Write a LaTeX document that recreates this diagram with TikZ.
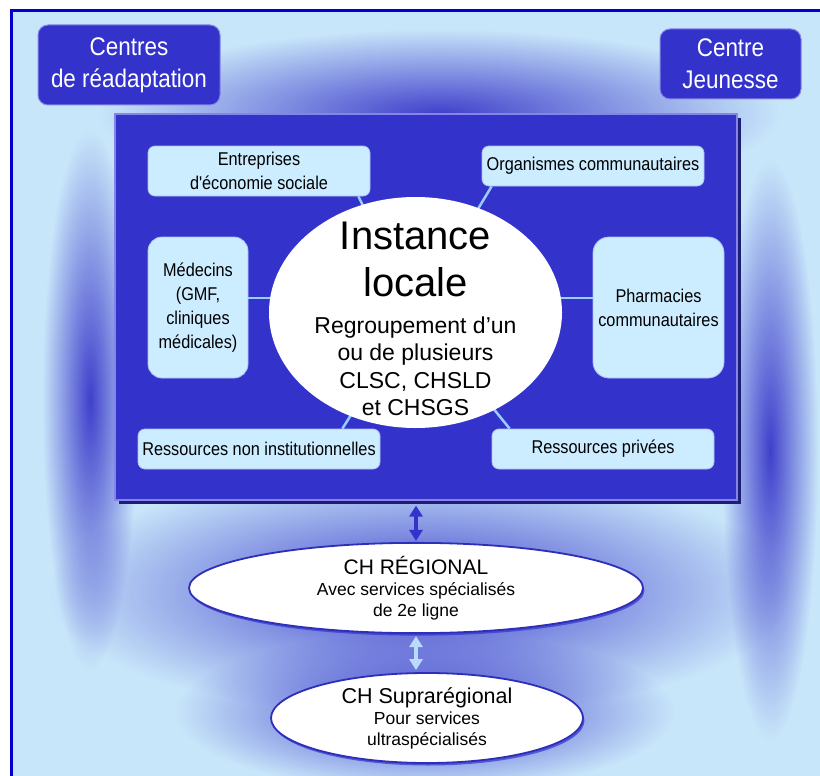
\documentclass[tikz,border=0pt]{standalone}
\usepackage{fontspec}
\setmainfont{Liberation Sans}
\newfontfamily\narrowfont[FakeStretch=0.88]{Liberation Sans}
\usepackage{tikz}
\usetikzlibrary{math}
\usetikzlibrary{shapes.geometric,shadows,fadings,arrows.meta,positioning}
\usepackage{xcolor}

\definecolor{bgblue}{HTML}{C8E6FA}
\definecolor{deepblue}{HTML}{3333CC}
\definecolor{paleblue}{HTML}{CCECFF}
\definecolor{glowblue}{HTML}{4040CC}
\definecolor{frameblue}{HTML}{0000CC}
\definecolor{shadowblue}{HTML}{1E1E78}
\definecolor{edgeblue}{HTML}{8585E6}
\definecolor{linkblue}{HTML}{99CCFF}
\definecolor{arrowpale}{HTML}{B8DCFA}

\tikzfading[name=glowfade, inner color=transparent!0, outer color=transparent!100]

\begin{document}
\begin{tikzpicture}[x=1pt,y=-1pt]

\tikzmath{
	\picw = 820; \pich = 776;
}

\tikzset{
  glow/.style={fill=glowblue, path fading=glowfade},
  corner box/.style={draw=edgeblue, line width=1pt, fill=deepblue,
    rounded corners=10pt, text=white, align=center, inner sep=0pt,
    font=\narrowfont\fontsize{25.5}{32}\selectfont},
  pale box/.style={draw=edgeblue!45!paleblue, line width=0.8pt, fill=paleblue,
    rounded corners=#1, align=center, inner sep=0pt,
    font=\narrowfont\fontsize{18.5}{24}\selectfont},
  pale box/.default=7pt,
  link/.style={linkblue, line width=2.5pt},
  ch oval/.style={ellipse, draw=deepblue!90!black, line width=1.8pt, fill=white,
    inner sep=0pt, align=center, font=\fontsize{17.5}{21}\selectfont,
    drop shadow={shadow xshift=1.5pt, shadow yshift=-2.5pt, fill=deepblue, opacity=0.7}},
  updown/.style={line width=3.5pt, {Triangle[width=13pt,length=11pt]}-{Triangle[width=13pt,length=11pt]}},
}

% background
\useasboundingbox (0,0) rectangle (\picw,\pich);
\fill[bgblue] (11,11) rectangle (\picw,\pich);
\fill[glow] (440,114) ellipse (340 and 85);
\fill[glow] (90,400) ellipse (48 and 270);
\fill[glow] (770,450) ellipse (48 and 290);
\fill[glow] (420,592) ellipse (370 and 125);
\fill[glow] (425,712) ellipse (250 and 80);
\draw[frameblue, line width=3pt] (11,11) rectangle (\picw+20,\pich+20);

% outside partners
\node[corner box, minimum width=182pt, minimum height=80pt] (readapt) at (129,65) {Centres\\de réadaptation};
\node[corner box, minimum width=141pt, minimum height=70pt] (jeunesse) at (730.5,64) {Centre\\Jeunesse};

% local instance
\node[draw=edgeblue, line width=1.2pt, fill=deepblue, inner sep=0pt,
  minimum width=622pt, minimum height=386pt,
  drop shadow={shadow xshift=3.5pt, shadow yshift=-3.5pt, fill=shadowblue, opacity=1}] (local) at (426,307) {};

\node[pale box, minimum width=222pt, minimum height=50pt] (entreprises) at (259,171) {Entreprises\\d'économie sociale};
\node[pale box, minimum width=222pt, minimum height=40pt] (organismes) at (593,166) {Organismes communautaires};
\node[pale box=14pt, minimum width=100pt, minimum height=141pt] (medecins) at (198,307.5) {Médecins\\(GMF,\\cliniques\\médicales)};
\node[pale box=16pt, minimum width=131pt, minimum height=141pt] (pharmacies) at (658.5,307.5) {Pharmacies\\communautaires};
\node[pale box, minimum width=242pt, minimum height=40pt] (nonInst) at (259,449) {Ressources non institutionnelles};
\node[pale box, minimum width=222pt, minimum height=40pt] (privees) at (603,449) {Ressources privées};

\coordinate (hub) at (415.5,312.5);
\draw[link] ([xshift=-12pt]entreprises.south east) -- (hub);
\draw[link] ([xshift=10pt]organismes.south west) -- (hub);
\draw[link] ([yshift=9.5pt]medecins.east) -- ([yshift=9.5pt]medecins.east -| hub);
\draw[link] ([yshift=9.5pt]pharmacies.west) -- ([yshift=9.5pt]pharmacies.west -| hub);
\draw[link] ([xshift=-38pt]nonInst.north east) -- (hub);
\draw[link] ([xshift=18pt]privees.north west) -- (hub);

\node[ellipse, fill=white, inner sep=0pt, minimum width=293pt, minimum height=231pt] (instance) at (hub) {};
\node[align=center, inner sep=0pt, anchor=north, font=\fontsize{40}{47}\selectfont] (instancetitle) at (415.5,222) {Instance\\locale};
\node[align=center, inner sep=0pt, below=19pt of instancetitle, font=\fontsize{23}{27.5}\selectfont] (instancetxt) {Regroupement d'un\\ou de plusieurs\\CLSC, CHSLD\\et CHSGS};

% hospitals
\node[ch oval, minimum width=454pt, minimum height=90pt] (regional) at (416,588)
  {{\fontsize{21}{24}\selectfont CH RÉGIONAL}\\Avec services spécialisés\\de 2e ligne};
\node[ch oval, minimum width=312pt, minimum height=90pt] (supra) at (427,718)
  {{\fontsize{21.5}{24}\selectfont CH Suprarégional}\\Pour services\\ultraspécialisés};

\draw[updown, deepblue, shorten <=5pt, shorten >=1pt] (local.south -| regional.north) -- (regional.north);
\draw[updown, arrowpale, shorten <=2pt, shorten >=2pt] (regional.south) -- (regional.south |- supra.north);

\end{tikzpicture}
\end{document}
